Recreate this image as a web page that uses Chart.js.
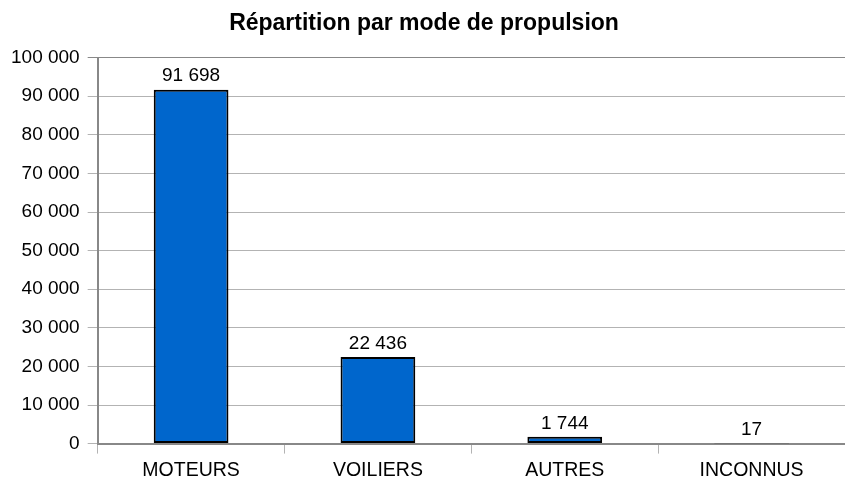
<!DOCTYPE html>
<html>
<head>
<meta charset="utf-8">
<script src="https://cdn.jsdelivr.net/npm/chart.js@4.4.0/dist/chart.umd.min.js"></script>
<style>
  html, body { margin: 0; padding: 0; background: #fff; }
  #wrap { width: 845px; height: 481px; }
</style>
</head>
<body>
<div id="wrap"><canvas id="myChart" width="845" height="481"></canvas></div>
<script>
const categories = ['MOTEURS', 'VOILIERS', 'AUTRES', 'INCONNUS'];
const counts = [91698, 22436, 1744, 17];
const yTicks = [0, 10000, 20000, 30000, 40000, 50000, 60000, 70000, 80000, 90000, 100000];

// thousands with a plain space, like the original
const fmt = (v) => String(Math.round(v)).replace(/\B(?=(\d{3})+(?!\d))/g, ' ');

// values above the bars
const valueLabels = {
    id: 'valueLabels',
    afterDatasetsDraw(chart) {
        const ctx = chart.ctx;
        const meta = chart.getDatasetMeta(0);
        ctx.save();
        ctx.font = '19px "Liberation Sans", Arial, sans-serif';
        ctx.fillStyle = '#000';
        ctx.textAlign = 'center';
        ctx.textBaseline = 'bottom';
        meta.data.forEach((bar, i) => {
            ctx.fillText(fmt(counts[i]), bar.x, bar.y - 4);
        });
        ctx.restore();
    }
};

Chart.defaults.font.family = '"Liberation Sans", Arial, sans-serif';
Chart.defaults.color = '#000';

new Chart(document.getElementById('myChart').getContext('2d'), {
    type: 'bar',
    data: {
        labels: categories,
        datasets: [{
            data: counts,
            backgroundColor: '#0066cc',
            borderColor: '#000',
            borderWidth: 2,
            borderSkipped: false,
            barPercentage: 0.4,
            categoryPercentage: 1,
        }]
    },
    options: {
        responsive: false,
        animation: false,
        layout: { padding: { left: 3, right: 0, top: 0, bottom: -6 } },
        plugins: {
            legend: { display: false },
            tooltip: { enabled: false },
            title: {
                display: true,
                text: 'Répartition par mode de propulsion',
                font: { size: 23, weight: 'bold' },
                padding: { top: 10, bottom: 20 }
            }
        },
        scales: {
            x: {
                grid: {
                    offset: true,
                    drawOnChartArea: false,
                    tickLength: 10,
                    color: '#b3b3b3'
                },
                border: { color: '#888', width: 2 },
                ticks: { font: { size: 19.5 }, padding: 5 }
            },
            y: {
                min: 0,
                max: 100000,
                afterBuildTicks(axis) {
                    axis.ticks = yTicks.map(v => ({ value: v }));
                },
                grid: {
                    tickLength: 10,
                    color: (c) => c.tick && c.tick.value === 100000 ? '#888' : '#b3b3b3',
                    lineWidth: 1
                },
                border: { color: '#888', width: 2 },
                ticks: {
                    font: { size: 19 },
                    padding: 8,
                    callback: (v) => fmt(v)
                }
            }
        }
    },
    plugins: [valueLabels]
});
</script>
</body>
</html>
